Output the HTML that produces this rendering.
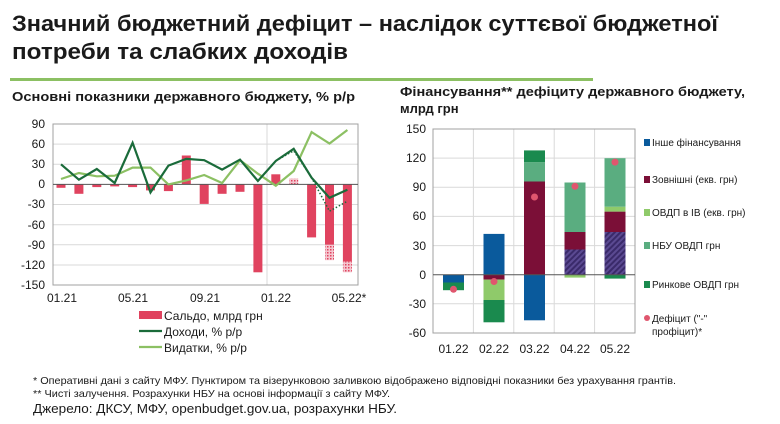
<!DOCTYPE html>
<html><head><meta charset="utf-8"><style>
body{margin:0;background:#fff;}
svg{display:block;font-family:"Liberation Sans",sans-serif;}
</style></head><body>
<svg width="780" height="424" viewBox="0 0 780 424">
<defs>
<pattern id="pk" width="3" height="3" patternUnits="userSpaceOnUse"><rect width="3" height="3" fill="#f4c6cf"/><rect width="1.5" height="1.5" fill="#e0435f"/></pattern>
<pattern id="hb" width="4" height="4" patternUnits="userSpaceOnUse" patternTransform="rotate(45)"><rect width="4" height="4" fill="#3a2a6a"/><rect width="2" height="4" fill="#5b4a92"/></pattern>
</defs>
<text x="12" y="31" font-size="22" font-weight="bold" fill="#1a1a1a" textLength="706" lengthAdjust="spacingAndGlyphs">Значний бюджетний дефіцит – наслідок суттєвої бюджетної</text>
<text x="12" y="59" font-size="22" font-weight="bold" fill="#1a1a1a" textLength="336" lengthAdjust="spacingAndGlyphs">потреби та слабких доходів</text>
<rect x="10" y="78" width="583" height="3" fill="#8cc063"/>
<text x="12" y="101" font-size="13" font-weight="bold" fill="#1a1a1a" textLength="343" lengthAdjust="spacingAndGlyphs">Основні показники державного бюджету, % р/р</text>
<text x="400" y="96" font-size="13" font-weight="bold" fill="#1a1a1a" textLength="345" lengthAdjust="spacingAndGlyphs">Фінансування** дефіциту державного бюджету,</text>
<text x="400" y="113" font-size="13" font-weight="bold" fill="#1a1a1a">млрд грн</text>

<!-- left chart -->
<g stroke="#d9d9d9" stroke-width="1">
<line x1="53" x2="358" y1="144.1" y2="144.1"/><line x1="53" x2="358" y1="164.3" y2="164.3"/>
<line x1="53" x2="358" y1="204.5" y2="204.5"/><line x1="53" x2="358" y1="224.7" y2="224.7"/>
<line x1="53" x2="358" y1="244.8" y2="244.8"/><line x1="53" x2="358" y1="265" y2="265"/>
<line x1="267" x2="267" y1="124" y2="285"/>
</g>
<rect x="53" y="124" width="305" height="161" fill="none" stroke="#a0a0a0"/>
<g font-size="12" fill="#1a1a1a" text-anchor="end">
<text x="45" y="128">90</text><text x="45" y="148">60</text><text x="45" y="168">30</text><text x="45" y="188">0</text>
<text x="45" y="208">-30</text><text x="45" y="229">-60</text><text x="45" y="249">-90</text><text x="45" y="269">-120</text><text x="45" y="289">-150</text>
</g>
<g font-size="12" fill="#1a1a1a" text-anchor="middle">
<text x="62" y="302">01.21</text><text x="133" y="302">05.21</text><text x="205" y="302">09.21</text><text x="276" y="302">01.22</text><text x="349" y="302">05.22*</text>
</g>
<g fill="#e0435f">
<rect x="56.5" y="184.4" width="9" height="3.4"/><rect x="74.4" y="184.4" width="9" height="9.4"/>
<rect x="92.3" y="184.4" width="9" height="2.7"/><rect x="110.2" y="184.4" width="9" height="2"/>
<rect x="128.1" y="184.4" width="9" height="2.7"/><rect x="146" y="184.4" width="9" height="6"/>
<rect x="163.9" y="184.4" width="9" height="6.7"/><rect x="181.8" y="155.5" width="9" height="28.9"/>
<rect x="199.7" y="184.4" width="9" height="19.5"/><rect x="217.6" y="184.4" width="9" height="9.4"/>
<rect x="235.5" y="184.4" width="9" height="7.4"/><rect x="253.4" y="184.4" width="9" height="87.9"/>
<rect x="271.3" y="174.3" width="9" height="10.1"/><rect x="289.2" y="178.4" width="9" height="6" fill="url(#pk)"/>
<rect x="307.1" y="184.4" width="9" height="53"/>
<rect x="325" y="184.4" width="9" height="60.4"/><rect x="325" y="244.8" width="9" height="15.4" fill="url(#pk)"/>
<rect x="342.9" y="184.4" width="9" height="77.2"/><rect x="342.9" y="261.6" width="9" height="10.7" fill="url(#pk)"/>
</g>
<line x1="53" x2="358" y1="184.4" y2="184.4" stroke="#555" stroke-width="1"/>
<polyline fill="none" stroke="#1a6b3a" stroke-width="1.5" stroke-dasharray="1.5,2" points="275.8,160.9 293.7,150.8 311.6,177.7 329.5,211.2 347.4,201.2"/>
<polyline fill="none" stroke="#8cc063" stroke-width="2.2" points="61,179 78.9,173 96.8,176.3 114.7,175.7 132.6,167.6 150.5,167.6 168.4,184.4 186.3,180.4 204.2,175 222.1,183 240,160.2 257.9,173.7 275.8,185.7 293.7,171 311.6,132.1 329.5,143.5 347.4,130"/>
<polyline fill="none" stroke="#1a6b3a" stroke-width="2.2" points="61,164.3 78.9,179.7 96.8,169 114.7,183 132.6,142.8 150.5,192.4 168.4,165.6 186.3,158.9 204.2,160.2 222.1,169.6 240,159.6 257.9,181 275.8,160.9 293.7,148.8 311.6,177.7 329.5,197.8 347.4,189.8"/>
<g font-size="12" fill="#1a1a1a">
<rect x="139" y="311" width="23" height="8" fill="#e0435f"/><text x="164" y="320">Сальдо, млрд грн</text>
<line x1="139" x2="162" y1="331" y2="331" stroke="#1a6b3a" stroke-width="2.2"/><text x="164" y="336">Доходи, % р/р</text>
<line x1="139" x2="162" y1="347" y2="347" stroke="#8cc063" stroke-width="2.2"/><text x="164" y="352">Видатки, % р/р</text>
</g>

<!-- right chart -->
<g stroke="#d9d9d9" stroke-width="1">
<line x1="433" x2="635" y1="158.1" y2="158.1"/><line x1="433" x2="635" y1="187.3" y2="187.3"/>
<line x1="433" x2="635" y1="216.4" y2="216.4"/><line x1="433" x2="635" y1="245.6" y2="245.6"/>
<line x1="433" x2="635" y1="303.8" y2="303.8"/>
<line x1="473.4" x2="473.4" y1="129" y2="333"/><line x1="513.8" x2="513.8" y1="129" y2="333"/>
<line x1="554.2" x2="554.2" y1="129" y2="333"/><line x1="594.6" x2="594.6" y1="129" y2="333"/>
</g>
<rect x="433" y="129" width="202" height="204" fill="none" stroke="#a0a0a0"/>
<g font-size="12" fill="#1a1a1a" text-anchor="end">
<text x="426" y="133">150</text><text x="426" y="162">120</text><text x="426" y="191">90</text><text x="426" y="220">60</text>
<text x="426" y="250">30</text><text x="426" y="279">0</text><text x="426" y="308">-30</text><text x="426" y="337">-60</text>
</g>
<g font-size="12" fill="#1a1a1a" text-anchor="middle">
<text x="453.5" y="353">01.22</text><text x="494" y="353">02.22</text><text x="534.5" y="353">03.22</text><text x="575" y="353">04.22</text><text x="615" y="353">05.22</text>
</g>
<rect x="443" y="274.7" width="21" height="7.8" fill="#0a5a9c"/>
<rect x="443" y="282.5" width="21" height="7.7" fill="#1a8a4e"/>
<rect x="483.5" y="233.9" width="21" height="40.8" fill="#0a5a9c"/>
<rect x="483.5" y="274.7" width="21" height="4.9" fill="#7b0f37"/>
<rect x="483.5" y="279.6" width="21" height="20.4" fill="#8fca6a"/>
<rect x="483.5" y="300" width="21" height="22.3" fill="#1a8a4e"/>
<rect x="524" y="181.5" width="21" height="93.2" fill="#7b0f37"/>
<rect x="524" y="162.1" width="21" height="19.4" fill="#5aad80"/>
<rect x="524" y="150.4" width="21" height="11.7" fill="#1a8a4e"/>
<rect x="524" y="274.7" width="21" height="45.6" fill="#0a5a9c"/>
<rect x="564.5" y="249.5" width="21" height="25.2" fill="url(#hb)"/>
<rect x="564.5" y="232" width="21" height="17.5" fill="#7b0f37"/>
<rect x="564.5" y="182.5" width="21" height="49.5" fill="#5aad80"/>
<rect x="564.5" y="274.7" width="21" height="2.9" fill="#8fca6a"/>
<rect x="604.5" y="232" width="21" height="42.7" fill="url(#hb)"/>
<rect x="604.5" y="211.6" width="21" height="20.4" fill="#7b0f37"/>
<rect x="604.5" y="206.7" width="21" height="4.9" fill="#8fca6a"/>
<rect x="604.5" y="158.2" width="21" height="48.5" fill="#5aad80"/>
<rect x="604.5" y="274.7" width="21" height="3.9" fill="#1a8a4e"/>
<line x1="433" x2="635" y1="274.7" y2="274.7" stroke="#555"/>
<g fill="#e0566e">
<circle cx="453.5" cy="289.3" r="3.5"/><circle cx="494" cy="281.5" r="3.5"/><circle cx="534.5" cy="197" r="3.5"/>
<circle cx="575" cy="186.3" r="3.5"/><circle cx="615" cy="162.1" r="3.5"/>
</g>
<g font-size="10" fill="#1a1a1a">
<rect x="644" y="139" width="6" height="7" fill="#0a5a9c"/><text x="652" y="146">Інше фінансування</text>
<rect x="644" y="176" width="6" height="7" fill="#7b0f37"/><text x="652" y="183">Зовнішні (екв. грн)</text>
<rect x="644" y="209" width="6" height="7" fill="#8fca6a"/><text x="652" y="216">ОВДП в ІВ (екв. грн)</text>
<rect x="644" y="242" width="6" height="7" fill="#5aad80"/><text x="652" y="249">НБУ ОВДП грн</text>
<rect x="644" y="281" width="6" height="7" fill="#1a8a4e"/><text x="652" y="288">Ринкове ОВДП грн</text>
<circle cx="647" cy="318" r="3" fill="#e0566e"/><text x="652" y="322">Дефіцит ("-"</text><text x="652" y="335">профіцит)*</text>
</g>

<g font-size="10.5" fill="#1a1a1a">
<text x="33" y="384" textLength="643" lengthAdjust="spacingAndGlyphs">* Оперативні дані з сайту МФУ. Пунктиром та візерунковою заливкою відображено відповідні показники без урахування грантів.</text>
<text x="33" y="397" textLength="357" lengthAdjust="spacingAndGlyphs">** Чисті залучення. Розрахунки НБУ на основі інформації з сайту МФУ.</text>
</g>
<text x="33" y="413" font-size="13" fill="#1a1a1a" textLength="364" lengthAdjust="spacingAndGlyphs">Джерело: ДКСУ, МФУ, openbudget.gov.ua, розрахунки НБУ.</text>
</svg>
</body></html>
